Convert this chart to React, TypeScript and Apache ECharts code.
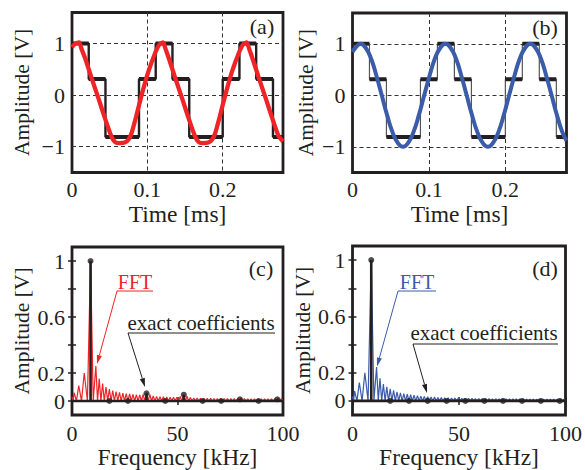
import React, { useEffect, useRef } from 'react';
import * as echarts from 'echarts';

// ---- time-domain data (panels a, b) ----
const stairEdges = [0, 0.0222, 0.0444, 0.0889, 0.1111, 0.1333, 0.1556, 0.2, 0.2222, 0.2444, 0.2667, 0.28];
const stairLevels = [1, 0.31, -0.81, 0.31, 1, 0.31, -0.81, 0.31, 1, 0.31, -0.81];

const redTime = [0, 0.004, 0.0095, 0.0125, 0.018, 0.026, 0.035, 0.044, 0.052, 0.057, 0.062, 0.07, 0.075, 0.079, 0.085, 0.092, 0.101, 0.111, 0.116, 0.121, 0.124, 0.129, 0.137, 0.146, 0.155, 0.163, 0.168, 0.173, 0.181, 0.186, 0.19, 0.196, 0.203, 0.212, 0.222, 0.227, 0.232, 0.235, 0.24, 0.248, 0.257, 0.266, 0.274, 0.28];
const redSig = [0.93, 0.99, 1.02, 0.9, 0.69, 0.33, -0.06, -0.46, -0.79, -0.91, -0.93, -0.92, -0.86, -0.74, -0.42, -0.02, 0.44, 0.84, 0.98, 1.02, 0.9, 0.69, 0.33, -0.06, -0.46, -0.79, -0.91, -0.93, -0.92, -0.86, -0.74, -0.42, -0.02, 0.44, 0.84, 0.98, 1.02, 0.9, 0.69, 0.33, -0.06, -0.46, -0.79, -0.9];

const blueTime = [0, 0.0036, 0.0105, 0.0174, 0.0244, 0.0313, 0.0383, 0.0452, 0.0522, 0.0591, 0.0661, 0.073, 0.0799, 0.0869, 0.0938, 0.1008, 0.1077, 0.1147, 0.1216, 0.1285, 0.1355, 0.1424, 0.1494, 0.1563, 0.1633, 0.1702, 0.1772, 0.1841, 0.191, 0.198, 0.2049, 0.2119, 0.2188, 0.2258, 0.2327, 0.2396, 0.2466, 0.2535, 0.2605, 0.2674, 0.2744, 0.28];
const blueSig = [0.84, 0.92, 1, 0.92, 0.71, 0.38, 0, -0.38, -0.71, -0.92, -1, -0.92, -0.71, -0.38, 0, 0.38, 0.71, 0.92, 1, 0.92, 0.71, 0.38, 0, -0.38, -0.71, -0.92, -1, -0.92, -0.71, -0.38, 0, 0.38, 0.71, 0.92, 1, 0.92, 0.71, 0.38, 0, -0.38, -0.71, -0.88];

// ---- spectra (panels c, d) ----
const lobeFreq = [0, 1.0, 3.2, 5.8, 8.8, 11.3, 12.9, 14.5, 16.1, 17.7, 19.3, 20.9, 22.5, 24.1, 25.7, 27.3, 28.9, 30.5, 32.1, 33.7, 35.3, 36.9, 38.5, 40.1, 41.7, 43.3, 44.9, 46.5, 48.1, 49.7, 51.3, 52.9, 54.5, 56.1, 57.7, 59.3, 60.9, 62.5, 64.1, 65.7, 67.3, 68.9, 70.5, 72.1, 73.7, 75.3, 76.9, 78.5, 80.1, 81.7, 83.3, 84.9, 86.5, 88.1, 89.7, 91.3, 92.9, 94.5, 96.1, 97.7, 99.3];
const redFft = [0.03, 0.06, 0.11, 0.2, 1, 0.25, 0.16, 0.125, 0.1, 0.085, 0.075, 0.068, 0.062, 0.057, 0.053, 0.05, 0.047, 0.045, 0.044, 0.048, 0.06, 0.048, 0.036, 0.033, 0.031, 0.03, 0.028, 0.027, 0.026, 0.026, 0.032, 0.046, 0.034, 0.025, 0.022, 0.021, 0.02, 0.02, 0.019, 0.019, 0.018, 0.018, 0.018, 0.017, 0.017, 0.017, 0.017, 0.018, 0.021, 0.018, 0.016, 0.016, 0.016, 0.016, 0.016, 0.015, 0.015, 0.015, 0.017, 0.02, 0.017];
const blueFft = [0.03, 0.07, 0.13, 0.2, 1, 0.24, 0.16, 0.12, 0.1, 0.085, 0.075, 0.065, 0.058, 0.052, 0.048, 0.044, 0.04, 0.037, 0.034, 0.032, 0.03, 0.028, 0.027, 0.025, 0.024, 0.023, 0.022, 0.021, 0.02, 0.02, 0.019, 0.019, 0.018, 0.018, 0.017, 0.017, 0.016, 0.016, 0.016, 0.015, 0.015, 0.015, 0.015, 0.014, 0.014, 0.014, 0.014, 0.014, 0.013, 0.013, 0.013, 0.013, 0.013, 0.013, 0.012, 0.012, 0.012, 0.012, 0.012, 0.012, 0.012];

const harmFreq = [8.8, 17.7, 26.5, 35.3, 44.2, 53.0, 61.9, 70.7, 79.6, 88.4, 97.3];
const exactC = [1, 0, 0, 0.055, 0, 0.045, 0, 0, 0.012, 0, 0.012];
const exactD = [1, 0, 0, 0, 0, 0, 0, 0, 0, 0, 0];

const timeTicks = [0, 0.1, 0.2];
const ampTicks = [-1, 0, 1];
const specLabelTicks = [0, 0.2, 0.6, 1];
const specMinorTicks = [0, 0.2, 0.4, 0.6, 0.8, 1];

// ---- helpers to build series tables ----
const stairPath = () => {
  const out: any[] = [];
  stairLevels.forEach((L, i) => { out.push([stairEdges[i], L]); out.push([stairEdges[i + 1], L]); });
  return out;
};
const stairFlats = () => {
  const out: any[] = [];
  stairLevels.forEach((L, i) => { out.push([stairEdges[i], L]); out.push([stairEdges[i + 1], L]); out.push(['-', '-']); });
  return out;
};
const lobes = (amp: number[]) => {
  const out: any[] = [];
  lobeFreq.forEach((f, i) => {
    if (i > 0) out.push([(lobeFreq[i - 1] + f) / 2, 0]);
    out.push([f, amp[i]]);
  });
  out.push([100, 0]);
  return out;
};
const stems = (vals: number[]) => {
  const out: any[] = [[0, 0]];
  harmFreq.forEach((f, i) => { out.push([f, 0]); out.push([f, vals[i]]); out.push([f, 0]); });
  out.push([100, 0]);
  return out;
};
const pairs = (xs: number[], ys: number[]) => xs.map((x, i) => [x, ys[i]]);

const FONT = 'Liberation Serif';
const INK = '#231f20';
const RED = '#ee2427';
const BLUE = '#3b5ca9';

const fmt = (v: number) => {
  const s = String(+Number(v).toFixed(2));
  return v < 0 ? '\u2212' + s.replace('-', '') : s;
};

const arrow = (x1: number, y1: number, x2: number, y2: number, color: string) => {
  const dx = x2 - x1, dy = y2 - y1;
  const len = Math.hypot(dx, dy);
  const ux = dx / len, uy = dy / len;
  const hl = 9, hw = 2.6;
  const bx = x2 - ux * hl, by = y2 - uy * hl;
  return [
    { type: 'line', silent: true, shape: { x1, y1, x2: bx, y2: by }, style: { stroke: color, lineWidth: 1 } },
    { type: 'polygon', silent: true, shape: { points: [[x2, y2], [bx - uy * hw, by + ux * hw], [bx + uy * hw, by - ux * hw]] }, style: { fill: color } },
  ];
};
const hline = (x1: number, x2: number, y: number, color: string) => ({ type: 'line', silent: true, shape: { x1, y1: y, x2, y2: y }, style: { stroke: color, lineWidth: 1 } });
const label = (text: string, x: number, y: number, color: string, size: number) => ({
  type: 'text', silent: true, x, y,
  style: { text, fill: color, fontFamily: FONT, fontSize: size, align: 'center', verticalAlign: 'middle' },
});

const dashed = { show: true, lineStyle: { color: '#333', width: 1, type: [4, 3] } };
const labelStyle = { color: INK, fontFamily: FONT, fontSize: 22, formatter: fmt };
const xNameStyle = { color: INK, fontFamily: FONT, fontSize: 23.5 };
const yNameStyle = { color: INK, fontFamily: FONT, fontSize: 21.5 };

const timeX = (gi: number) => ({
  type: 'value', gridIndex: gi, min: 0, max: 0.28,
  axisLine: { show: false },
  axisTick: { show: false, customValues: [0.1, 0.2] },
  axisLabel: { ...labelStyle, margin: 6, customValues: timeTicks },
  splitLine: dashed,
  name: 'Time [ms]', nameLocation: 'middle', nameGap: 29, nameTextStyle: xNameStyle,
});
const ampY = (gi: number, gap: number) => ({
  type: 'value', gridIndex: gi, min: -1.5, max: 1.6,
  axisLine: { show: false },
  axisTick: { show: false, customValues: ampTicks },
  axisLabel: { ...labelStyle, margin: 7, customValues: ampTicks },
  splitLine: dashed,
  name: 'Amplitude [V]', nameLocation: 'middle', nameGap: gap, nameTextStyle: yNameStyle,
});
const freqX = (gi: number, top: boolean) => ({
  type: 'value', gridIndex: gi, min: 0, max: 100, interval: 50, position: top ? 'top' : 'bottom',
  axisLine: { show: false },
  axisTick: { show: true, inside: true, length: 4, lineStyle: { color: INK, width: 1.5 } },
  axisLabel: top ? { show: false } : { ...labelStyle, margin: 7 },
  splitLine: { show: false },
  ...(top ? {} : { name: 'Frequency [kHz]', nameLocation: 'middle', nameGap: 30, nameTextStyle: xNameStyle }),
});
const specY = (gi: number, right: boolean) => ({
  type: 'value', gridIndex: gi, min: -0.1, max: 1.1, position: right ? 'right' : 'left',
  axisLine: { show: false },
  axisTick: { show: true, inside: true, length: 4, customValues: specMinorTicks, lineStyle: { color: INK, width: 1.5 } },
  axisLabel: right ? { show: false } : { ...labelStyle, margin: 7, customValues: specLabelTicks },
  splitLine: { show: false },
  ...(right ? {} : { name: 'Amplitude [V]', nameLocation: 'middle', nameGap: 39, nameTextStyle: yNameStyle }),
});

const gridBox = { show: true, borderColor: INK, borderWidth: 2.8, backgroundColor: 'transparent' };

const option: any = {
  animation: false,
  textStyle: { fontFamily: FONT },
  grid: [
    { ...gridBox, left: 72, top: 12.5, width: 211, height: 160 },
    { ...gridBox, left: 352.5, top: 13, width: 214, height: 159.5 },
    { ...gridBox, left: 72, top: 247, width: 211, height: 168 },
    { ...gridBox, left: 352.5, top: 246, width: 215, height: 170 },
  ],
  xAxis: [timeX(0), timeX(1), freqX(2, false), freqX(2, true), freqX(3, false), freqX(3, true)],
  yAxis: [ampY(0, 39), ampY(1, 36), specY(2, false), specY(2, true), specY(3, false), specY(3, true)],
  series: [
    // (a)
    { type: 'line', xAxisIndex: 0, yAxisIndex: 0, data: stairPath(), symbol: 'none', lineStyle: { color: INK, width: 2.4 }, z: 2 },
    { type: 'line', xAxisIndex: 0, yAxisIndex: 0, data: stairFlats(), symbol: 'none', connectNulls: false, lineStyle: { color: INK, width: 4 }, z: 2 },
    { type: 'line', xAxisIndex: 0, yAxisIndex: 0, data: pairs(redTime, redSig), symbol: 'none', smooth: 0.2, lineStyle: { color: RED, width: 4.3 }, z: 3 },
    // (b)
    { type: 'line', xAxisIndex: 1, yAxisIndex: 1, data: stairPath(), symbol: 'none', lineStyle: { color: '#555', width: 1.2 }, z: 2 },
    { type: 'line', xAxisIndex: 1, yAxisIndex: 1, data: stairFlats(), symbol: 'none', connectNulls: false, lineStyle: { color: INK, width: 4 }, z: 2 },
    { type: 'line', xAxisIndex: 1, yAxisIndex: 1, data: pairs(blueTime, blueSig), symbol: 'none', smooth: true, lineStyle: { color: BLUE, width: 4 }, z: 3 },
    // (c)
    { type: 'line', xAxisIndex: 2, yAxisIndex: 2, data: lobes(redFft), symbol: 'none', lineStyle: { color: RED, width: 1.2 }, z: 2 },
    { type: 'line', xAxisIndex: 2, yAxisIndex: 2, data: stems(exactC), symbol: 'none', lineStyle: { color: INK, width: 2.6 }, z: 3 },
    { type: 'scatter', xAxisIndex: 2, yAxisIndex: 2, data: pairs(harmFreq, exactC), symbolSize: 6, itemStyle: { color: INK }, z: 4 },
    // (d)
    { type: 'line', xAxisIndex: 4, yAxisIndex: 4, data: lobes(blueFft), symbol: 'none', lineStyle: { color: BLUE, width: 1.2 }, z: 2 },
    { type: 'line', xAxisIndex: 4, yAxisIndex: 4, data: stems(exactD), symbol: 'none', lineStyle: { color: INK, width: 2.6 }, z: 3 },
    { type: 'scatter', xAxisIndex: 4, yAxisIndex: 4, data: pairs(harmFreq, exactD), symbolSize: 6, itemStyle: { color: INK }, z: 4 },
  ],
  graphic: [
    label('(a)', 262, 26.5, INK, 22),
    label('(b)', 545, 27, INK, 22),
    label('(c)', 261, 268.5, INK, 22),
    label('(d)', 545, 268, INK, 22),
    // (c) annotations
    label('FFT', 135, 282, RED, 20),
    hline(117, 153, 291, RED),
    ...arrow(117, 291, 97, 364, RED),
    label('exact coefficients', 201, 322.5, INK, 21),
    hline(128, 275, 333, INK),
    ...arrow(128, 333, 145, 387, INK),
    // (d) annotations
    label('FFT', 417, 281.5, BLUE, 20),
    hline(398, 436, 291, BLUE),
    ...arrow(398, 291, 377, 366.5, BLUE),
    label('exact coefficients', 484, 332.5, INK, 21),
    hline(413, 558, 344, INK),
    ...arrow(413, 344, 427, 393, INK),
  ],
};

export default function App() {
  const ref = useRef<HTMLDivElement>(null);
  useEffect(() => {
    const chart = echarts.init(ref.current as HTMLDivElement, undefined, { renderer: 'svg' });
    chart.setOption(option);
    return () => chart.dispose();
  }, []);
  return <div ref={ref} style={{ position: 'fixed', left: 0, top: 0, width: 585, height: 470, background: '#fff' }} />;
}
